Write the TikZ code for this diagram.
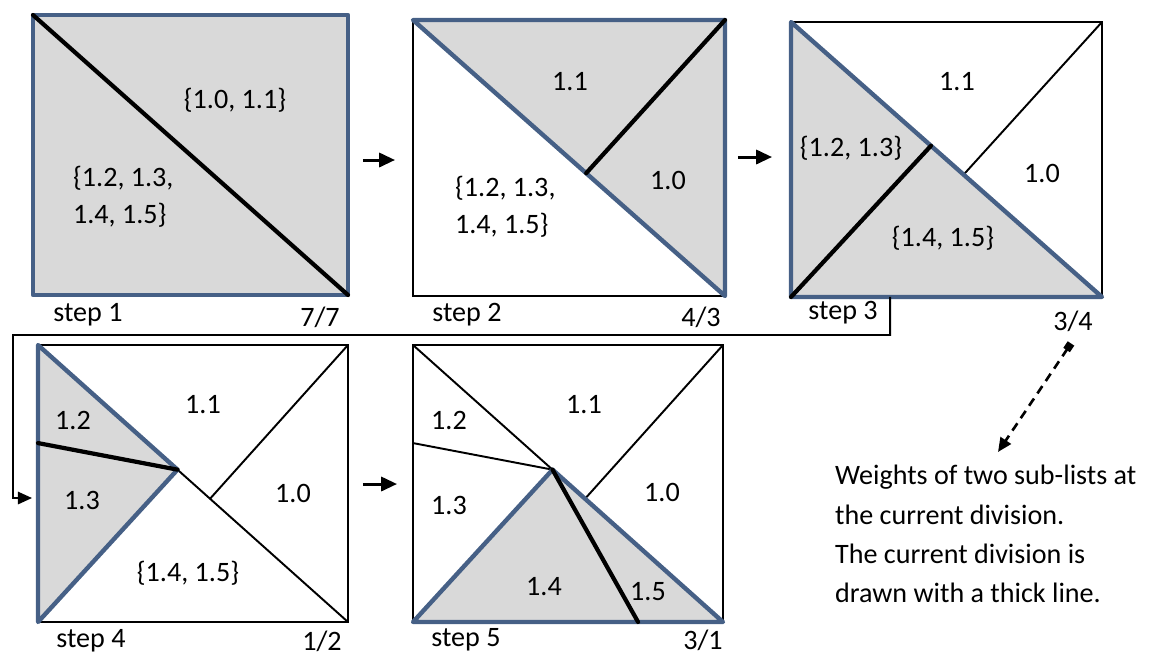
\documentclass[tikz,border=0pt]{standalone}
\usepackage{fontspec}
\setmainfont{Carlito}
\usetikzlibrary{arrows.meta,calc}
\definecolor{edgeBlue}{RGB}{70,96,134}
\definecolor{regionGray}{RGB}{217,217,217}

\begin{document}
\begin{tikzpicture}[
    x=0.02cm, y=-0.02cm,
    every node/.style={font=\fontsize{16}{21}\selectfont, inner sep=1pt},
    panel/.style={draw=black, line width=1.1pt, rectangle,
                inner sep=0pt, outer sep=0pt,
                minimum width=6.2cm, minimum height=5.54cm},
    region/.style={fill=regionGray, draw=edgeBlue, line width=2.5pt,
                line join=round},
    cut/.style={draw=black, line width=2.4pt, line cap=round},
    oldcut/.style={draw=black, line width=1.1pt},
    steparrow/.style={-{Triangle[length=9pt,width=8pt]}, line width=1.7pt},
    looparrow/.style={-{Triangle[length=8pt,width=7pt]}, line width=1.1pt},
    notearrow/.style={{Square[length=4.5pt,width=4.5pt]}-{Triangle[length=8pt,width=7pt]},
                line width=1.5pt, dash pattern=on 5pt off 3.5pt},
    multi/.style={align=left, anchor=west}
]
  \useasboundingbox (0,0) rectangle (1152,657);

  % --- Panels (pixel grid of the page) ---
  \node[panel, minimum width=6.3cm, minimum height=5.6cm] (p1) at (190.5,155) {};
  \node[panel, minimum width=6.24cm, minimum height=5.52cm] (p2) at (569,158) {};
  \node[panel, minimum width=6.22cm, minimum height=5.5cm] (p3) at (946.5,159.5) {};
  \node[panel] (p4) at (193,483.5) {};
  \node[panel] (p5) at (568,483.5) {};

  % --- Step 1: whole list, first cut on the diagonal ---
  \filldraw[region] (p1.north west) rectangle (p1.south east);
  \draw[cut] (p1.north west) -- (p1.south east);

  % --- Step 2: upper triangle split ---
  \coordinate (m2) at ($(p2.north west)!0.555!(p2.south east)$);
  \filldraw[region] (p2.north west) -- (p2.north east) -- (p2.south east) -- cycle;
  \draw[cut] (p2.north east) -- (m2);

  % --- Step 3: lower triangle split ---
  \coordinate (a3) at ($(p3.north west)!0.45!(p3.south east)$);
  \coordinate (m3) at ($(p3.north west)!0.555!(p3.south east)$);
  \draw[oldcut] (p3.north east) -- (m3);
  \filldraw[region] (p3.north west) -- (p3.south east) -- (p3.south west) -- cycle;
  \draw[cut] (p3.south west) -- (a3);

  % --- Step 4: left triangle split ---
  \coordinate (a4) at ($(p4.north west)!0.45!(p4.south east)$);
  \coordinate (m4) at ($(p4.north west)!0.555!(p4.south east)$);
  \coordinate (e4) at ($(p4.north west)!0.354!(p4.south west)$);
  \draw[oldcut] (a4) -- (p4.south east);
  \draw[oldcut] (p4.north east) -- (m4);
  \filldraw[region] (p4.north west) -- (a4) -- (p4.south west) -- cycle;
  \draw[cut] (e4) -- (a4);

  % --- Step 5: bottom triangle split ---
  \coordinate (a5) at ($(p5.north west)!0.45!(p5.south east)$);
  \coordinate (m5) at ($(p5.north west)!0.555!(p5.south east)$);
  \coordinate (e5) at ($(p5.north west)!0.354!(p5.south west)$);
  \coordinate (b5) at ($(p5.south west)!0.726!(p5.south east)$);
  \draw[oldcut] (p5.north west) -- (a5);
  \draw[oldcut] (e5) -- (a5);
  \draw[oldcut] (p5.north east) -- (m5);
  \filldraw[region] (p5.south west) -- (a5) -- (p5.south east) -- cycle;
  \draw[cut] (a5) -- (b5);

  % --- Sub-list labels ---
  \node (r1a) at (235,100) {\{1.0, 1.1\}};
  \node[multi] (r1b) at (71,197) {\{1.2, 1.3,\\1.4, 1.5\}};

  \node (r2a) at (570,82) {1.1};
  \node (r2b) at (668,180) {1.0};
  \node[multi] (r2c) at (453,207) {\{1.2, 1.3,\\1.4, 1.5\}};

  \node (r3a) at (957,82) {1.1};
  \node (r3b) at (1042,173) {1.0};
  \node (r3c) at (851,148) {\{1.2, 1.3\}};
  \node (r3d) at (943,238) {\{1.4, 1.5\}};

  \node (r4a) at (73,420) {1.2};
  \node (r4b) at (203,405) {1.1};
  \node (r4c) at (82,500) {1.3};
  \node (r4d) at (293,493) {1.0};
  \node (r4e) at (188,573) {\{1.4, 1.5\}};

  \node (r5a) at (449,420) {1.2};
  \node (r5b) at (584,405) {1.1};
  \node (r5c) at (449,505) {1.3};
  \node (r5d) at (662,492) {1.0};
  \node (r5e) at (544,587) {1.4};
  \node (r5f) at (648,592) {1.5};

  % --- Step names and weights under the panels ---
  \node (s1) at (88,315) {step 1};
  \node (w1) at (320,317) {7/7};
  \node (s2) at (467,315) {step 2};
  \node (w2) at (701,317) {4/3};
  \node (s3) at (843,313) {step 3};
  \node (w3) at (1073,321) {3/4};
  \node (s4) at (91,641) {step 4};
  \node (w4) at (322,641) {1/2};
  \node (s5) at (466,640) {step 5};
  \node (w5) at (703,640) {3/1};

  % --- Arrows between steps ---
  \draw[steparrow] ($(p1.east)+(15,5)$) -- ($(p2.west)+(-18,2)$);
  \draw[steparrow] ($(p2.east)+(13,-1)$) -- ($(p3.west)+(-19,-2.5)$);
  \draw[steparrow] ($(p4.east)+(15,0.5)$) -- ($(p5.west)+(-16,0.5)$);

  % --- Wrap from step 3 back to step 4 ---
  \coordinate (loopR) at ($(p3.south west)+(99,38)$);
  \coordinate (loopL) at (13,335);
  \coordinate (p4in) at ($(p4.west)+(-6,14.5)$);
  \draw[looparrow] (p3.south west -| loopR) -- (loopR) -- (loopL) |- (p4in);

  % --- Note on the weights ---
  \node[multi, font=\fontsize{16}{22.3}\selectfont] (note) at (833,534)
    {Weights of two sub-lists at\\the current division.\\The current division is\\drawn with a thick line.};
  \coordinate (noteTip) at (998,452);
  \draw[notearrow] ($(w3.south)+(-2,10)$) -- (noteTip);
\end{tikzpicture}
\end{document}
